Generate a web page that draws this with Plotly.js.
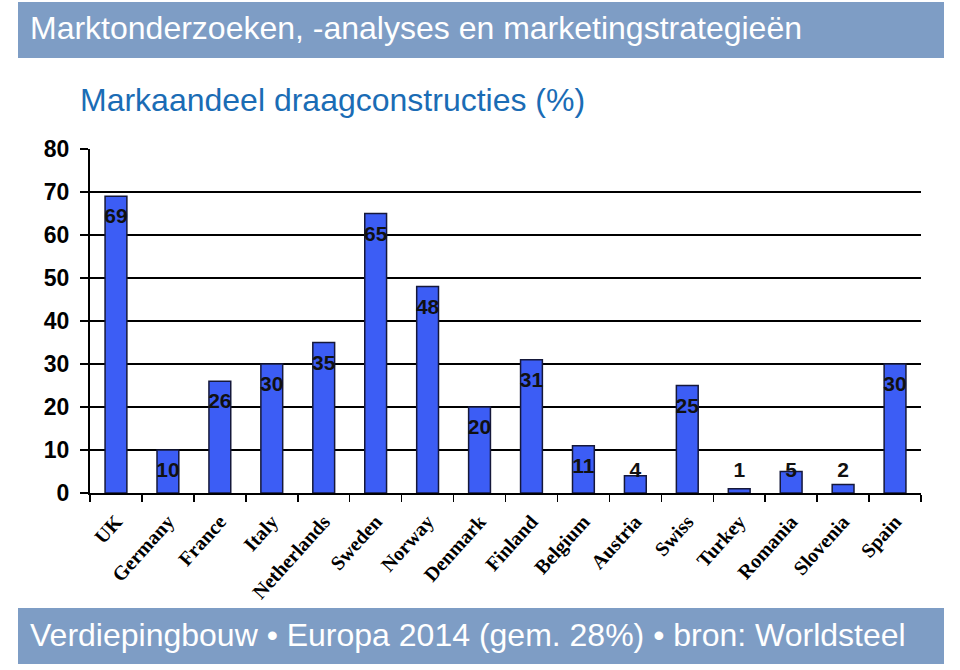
<!DOCTYPE html>
<html>
<head>
<meta charset="utf-8">
<script src="https://cdn.plot.ly/plotly-3.0.1.min.js"></script>
<style>html,body{margin:0;padding:0;background:#fff;}#chart{width:960px;height:670px;}</style>
</head>
<body>
<div id="chart"></div>
<script>
const countries = ["UK","Germany","France","Italy","Netherlands","Sweden","Norway","Denmark","Finland","Belgium","Austria","Swiss","Turkey","Romania","Slovenia","Spain"];
const shares = [69,10,26,30,35,65,48,20,31,11,4,25,1,5,2,30];
const headerText = "Marktonderzoeken, -analyses en marketingstrategieën";
const subtitleText = "Markaandeel draagconstructies (%)";
const footerText = "Verdiepingbouw \u2022 Europa 2014 (gem. 28%) \u2022 bron: Worldsteel";

// plot area in pixels: x 90..921, y 149..493
const L = 90, R = 921, T = 149, B = 493;
const px = v => (v - L) / (R - L);
const py = v => (B - v) / (B - T);

const labelY = shares.map(v => Math.max(v - 5.1, 4.9));

const bars = {
  type: 'bar', x: countries, y: shares,
  marker: {color: '#3c5df5', line: {color: '#15183a', width: 1.5}},
  hoverinfo: 'skip'
};
const labels = {
  type: 'scatter', mode: 'text', x: countries, y: labelY,
  text: shares.map(String), textposition: 'middle center',
  textfont: {family: 'Arial, Liberation Sans, sans-serif', size: 21, color: '#111', weight: 'bold'},
  cliponaxis: false, hoverinfo: 'skip'
};

const banner = '#7e9dc5';
const layout = {
  width: 960, height: 670,
  margin: {l: L, r: 960 - R, t: T, b: 670 - B, pad: 0},
  paper_bgcolor: '#fff', plot_bgcolor: '#fff',
  showlegend: false, bargap: 0.58,
  font: {family: 'Arial, Liberation Sans, sans-serif', color: '#000'},
  xaxis: {
    type: 'category', range: [-0.5, countries.length - 0.5], autorange: false,
    tickson: 'boundaries', ticks: 'outside', ticklen: 7, tickwidth: 1.5, tickcolor: '#000',
    showline: true, linecolor: '#000', linewidth: 2, showgrid: false, tickangle: -48,
    ticklabelstandoff: 7,
    tickfont: {family: 'Liberation Serif, Times New Roman, serif', size: 20, color: '#000', weight: 'bold'}
  },
  yaxis: {
    range: [0, 80], autorange: false, dtick: 10, tick0: 0, ticks: 'outside', ticklen: 8, tickwidth: 1.5, tickcolor: '#000',
    showline: true, linecolor: '#000', linewidth: 2, showgrid: true, gridcolor: '#000', gridwidth: 1.5,
    zeroline: false, ticklabelstandoff: 6,
    tickfont: {family: 'Arial, Liberation Sans, sans-serif', size: 23, color: '#000', weight: 'bold'}
  },
  shapes: [
    {type: 'rect', xref: 'paper', yref: 'paper', x0: px(18), x1: px(944), y0: py(58), y1: py(2), fillcolor: banner, line: {width: 0}, layer: 'below'},
    {type: 'rect', xref: 'paper', yref: 'paper', x0: px(18), x1: px(944), y0: py(664), y1: py(608), fillcolor: banner, line: {width: 0}, layer: 'below'}
  ],
  annotations: [
    {xref: 'paper', yref: 'paper', x: px(28), y: py(28), xanchor: 'left', yanchor: 'middle', showarrow: false,
     text: headerText, font: {family: 'Liberation Sans, Arial, sans-serif', size: 32, color: '#fff'}},
    {xref: 'paper', yref: 'paper', x: px(78), y: py(100), xanchor: 'left', yanchor: 'middle', showarrow: false,
     text: subtitleText, font: {family: 'Liberation Sans, Arial, sans-serif', size: 32, color: '#1a6cb5'}},
    {xref: 'paper', yref: 'paper', x: px(28), y: py(635), xanchor: 'left', yanchor: 'middle', showarrow: false,
     text: footerText, font: {family: 'Liberation Sans, Arial, sans-serif', size: 32, color: '#fff'}}
  ]
};

Plotly.newPlot('chart', [bars, labels], layout, {staticPlot: true, displayModeBar: false});
</script>
</body>
</html>
